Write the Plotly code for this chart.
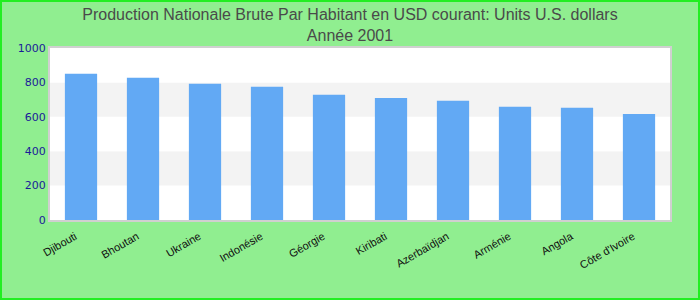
import plotly.graph_objects as go

categories = ["Djibouti", "Bhoutan", "Ukraine", "Indonésie", "Géorgie", "Kiribati",
              "Azerbaïdjan", "Arménie", "Angola", "Côte d'Ivoire"]
values = [850, 827, 792, 775, 728, 710, 693, 658, 652, 617]
band_edges = [0, 200, 400, 600, 800, 1000]
y_ticks = [0, 200, 400, 600, 800, 1000]

fig = go.Figure()
fig.add_trace(go.Bar(x=categories, y=values, marker=dict(color="#62a9f4", line=dict(width=0)),
                     hoverinfo="x+y"))

shapes = []
for i in range(len(band_edges) - 1):
    shapes.append(dict(type="rect", xref="paper", yref="y", x0=0, x1=1,
                       y0=band_edges[i], y1=band_edges[i + 1],
                       fillcolor="#ffffff" if i % 2 == 0 else "#f3f3f3",
                       line=dict(width=0), layer="below"))
# outer figure border
W, H = 700, 300
ml, mr, mt, mb = 50, 30, 48, 80
pw, ph = W - ml - mr, H - mt - mb
shapes.append(dict(type="rect", xref="paper", yref="paper",
                   x0=(-ml + 1) / pw, x1=(pw + mr - 1) / pw,
                   y0=(-mb + 1) / ph, y1=(ph + mt - 1) / ph,
                   line=dict(color="#22ee22", width=2), fillcolor="rgba(0,0,0,0)", layer="above"))

fig.update_layout(
    width=W, height=H,
    margin=dict(l=ml, r=mr, t=mt, b=mb),
    paper_bgcolor="#90ee90",
    plot_bgcolor="#ffffff",
    bargap=0.48,
    showlegend=False,
    shapes=shapes,
    title=dict(text="Production Nationale Brute Par Habitant en USD courant: Units U.S. dollars<br>Année 2001",
               x=0.5, xanchor="center", y=1 - 20 / H, yanchor="middle",
               font=dict(family="Liberation Sans, Arial, sans-serif", size=16, color="#4a4a4a")),
    xaxis=dict(tickangle=-30, tickfont=dict(family="Liberation Sans, Arial, sans-serif", size=11, color="#111111"),
               ticklabelshift=-6, ticklabelstandoff=4,
               showline=True, linecolor="#d0d0d0", linewidth=2, mirror=True, ticks="", showgrid=False),
    yaxis=dict(range=[0, 1000], tickvals=y_ticks, showgrid=False, zeroline=False,
               tickfont=dict(family="DejaVu Sans, sans-serif", size=11, color="#1a1a99"),
               showline=True, linecolor="#d0d0d0", linewidth=2, mirror=True, ticks=""),
)

fig.write_html("out.html")
